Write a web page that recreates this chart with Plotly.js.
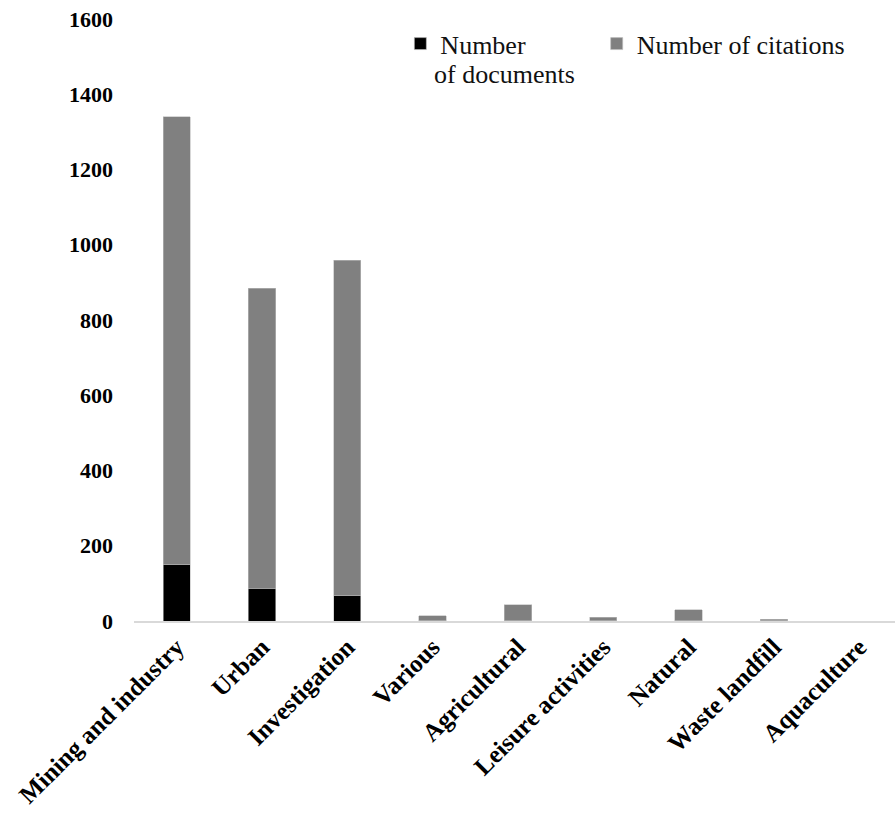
<!DOCTYPE html>
<html>
<head>
<meta charset="utf-8">
<script src="https://cdn.plot.ly/plotly-3.0.1.min.js"></script>
<style>html,body{margin:0;padding:0;background:#fff;}#chart{width:895px;height:813px;}</style>
</head>
<body>
<div id="chart"></div>
<script>
const categories = ["Mining and industry","Urban","Investigation","Various","Agricultural","Leisure activities","Natural","Waste landfill","Aquaculture"];
const documents = [150, 87, 67, 1, 1, 1, 1, 1, 0];
const citations = [1190, 798, 892, 13, 42, 9, 29, 4, 0];
const yTicks = [0, 200, 400, 600, 800, 1000, 1200, 1400, 1600];

const serif = "Liberation Serif";

const traces = [
  {type: "bar", name: "Number", x: categories, y: documents, legend: "legend",
   marker: {color: "#000000", line: {color: "#bdbdbd", width: 0.6}}},
  {type: "bar", name: "Number of citations", x: categories, y: citations, legend: "legend2",
   marker: {color: "#808080", line: {color: "#bdbdbd", width: 0.6}}}
];

const legendBase = {orientation: "h", y: 0.998, xanchor: "left", yanchor: "top",
  font: {family: serif, size: 26, color: "#111"}, bgcolor: "rgba(0,0,0,0)", itemwidth: 30};

const layout = {
  width: 895, height: 813,
  font: {family: serif},
  margin: {l: 134, r: 0, t: 19, b: 192},
  paper_bgcolor: "#ffffff", plot_bgcolor: "#ffffff",
  barmode: "stack", bargap: 0.68,
  showlegend: true,
  legend: Object.assign({}, legendBase, {x: 0.35}),
  legend2: Object.assign({}, legendBase, {x: 0.608}),
  annotations: [
    {text: "of documents", xref: "paper", yref: "paper", x: 0.391, y: 0.907,
     xanchor: "left", yanchor: "middle", showarrow: false,
     font: {family: serif, size: 26, color: "#111"}}
  ],
  xaxis: {type: "category", range: [-0.5, 8.42], tickangle: -45, automargin: false,
          showline: true, linecolor: "#d9d9d9", linewidth: 1.5, ticks: "",
          showgrid: false, zeroline: false,
          tickfont: {family: serif, size: 25, color: "#000", weight: "bold"}},
  yaxis: {range: [0, 1600], tickvals: yTicks, ticktext: yTicks.map(String), automargin: false,
          showline: false, showgrid: false, zeroline: false, ticks: "",
          ticklabelstandoff: 20,
          tickfont: {family: serif, size: 22, color: "#000", weight: "bold"}}
};

Plotly.newPlot("chart", traces, layout, {displayModeBar: false, staticPlot: true});
</script>
</body>
</html>
